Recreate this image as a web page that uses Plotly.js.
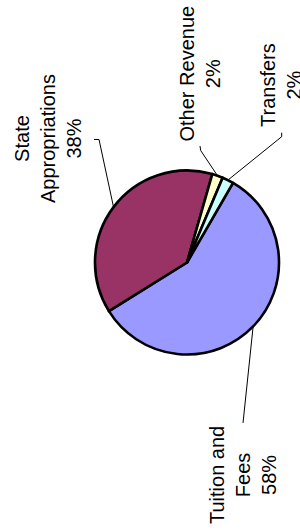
<!DOCTYPE html>
<html><head><meta charset="utf-8">
<script src="https://cdn.plot.ly/plotly-3.0.1.min.js"></script>
<style>html,body{margin:0;padding:0;background:#fff}#chart{width:300px;height:531px}</style>
</head><body><div id="chart"></div>
<script>
// ---- data ----
const categories = ["Tuition and Fees", "State Appropriations", "Other Revenue", "Transfers"];
const labelText = ["Tuition and<br>Fees", "State<br>Appropriations", "Other Revenue", "Transfers"];
const shares = [57.8, 38.3, 1.9, 2.0];
const colors = ["#9999FF", "#993366", "#FFFFCC", "#CCFFFF"];

// ---- geometry (pixels) ----
const W = 300, H = 531;
const cx = 187, cy = 262.5, R = 92, startAngle = 30;
const labelPos = [[243, 475], [48, 139], [199.5, 74], [281, 85]];
const leaderStart = [
  [[243, 423]],
  [[94, 139.5], [99, 139.5]],
  [[200, 146], [200.7, 150.5]],
  [[281.7, 132.7], [281.7, 136.7]]
];

const px = x => x / W;
const py = y => 1 - y / H;
const total = shares.reduce((a, b) => a + b, 0);

let cum = 0;
const shapes = [];
const annotations = [];
shares.forEach((v, i) => {
  const mid = (startAngle + 360 * (cum + v / 2) / total) * Math.PI / 180;
  cum += v;
  const ex = cx + R * Math.sin(mid), ey = cy - R * Math.cos(mid);
  const pts = leaderStart[i].concat([[ex, ey]]);
  const path = pts.map((p, k) => (k ? 'L' : 'M') + px(p[0]).toFixed(5) + ',' + py(p[1]).toFixed(5)).join(' ');
  shapes.push({type: 'path', xref: 'paper', yref: 'paper', path: path, line: {color: '#000', width: 1}});
  annotations.push({
    xref: 'paper', yref: 'paper', x: px(labelPos[i][0]), y: py(labelPos[i][1]),
    xanchor: 'center', yanchor: 'middle', showarrow: false, textangle: -90, align: 'center',
    text: labelText[i] + '<br>' + Math.round(v * 100 / total) + '%',
    font: {family: 'Liberation Sans, Arial, sans-serif', size: 20, color: '#000'}
  });
});

const trace = {
  type: 'pie', labels: categories, values: shares, sort: false,
  direction: 'clockwise', rotation: startAngle,
  marker: {colors: colors, line: {color: '#000', width: 2.6}},
  textinfo: 'none', hoverinfo: 'none',
  domain: {x: [px(cx - R), px(cx + R)], y: [py(cy + R), py(cy - R)]}
};

Plotly.newPlot('chart', [trace], {
  width: W, height: H, showlegend: false,
  margin: {l: 0, r: 0, t: 0, b: 0},
  paper_bgcolor: '#fff', plot_bgcolor: '#fff',
  shapes: shapes, annotations: annotations
}, {staticPlot: true});
</script></body></html>
